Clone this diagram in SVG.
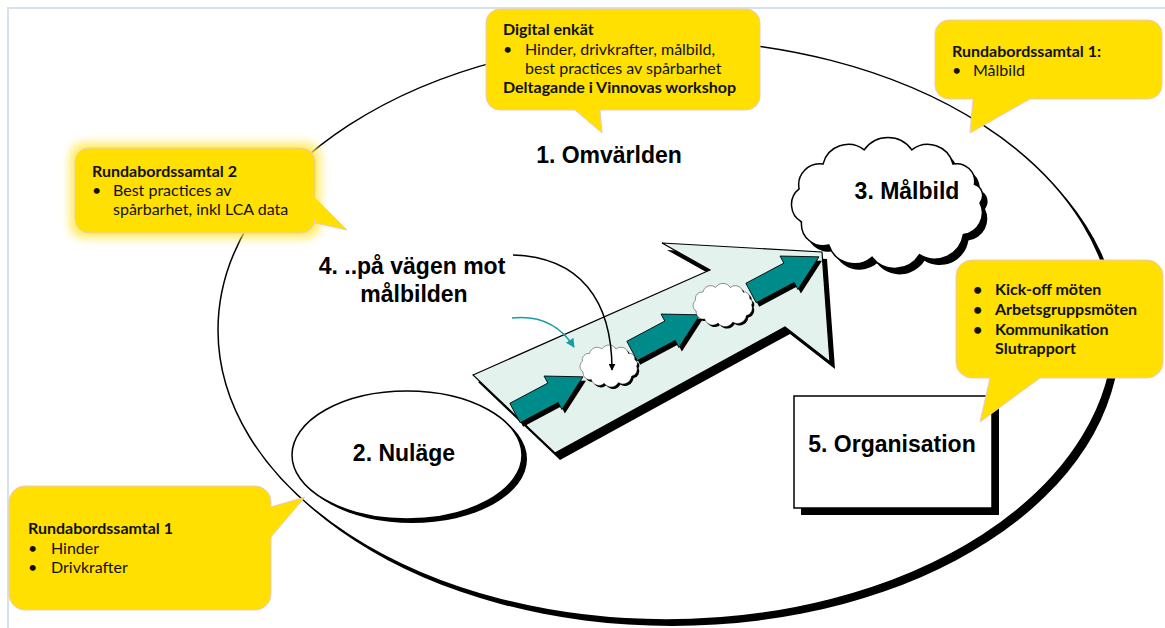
<svg xmlns="http://www.w3.org/2000/svg" width="1165" height="628" viewBox="0 0 1165 628">
  <defs>
    <style>
      .lbl { font-family: "Liberation Sans", Arial, sans-serif; font-weight: bold; font-size: 23px; fill: #000; }
      .ct { font-family: Lato, "Liberation Sans", sans-serif; font-size: 16px; fill: #111; }
      .b { font-weight: bold; }
      .callout { fill: #FFE000; stroke: #EBC9C0; stroke-width: 1; }
      .shadow { fill: #000; }
      .outline { fill: #fff; stroke: #000; stroke-width: 1.5; }
      .teal { fill: #008B8B; stroke: #000; stroke-width: 0.8; }
      .conn { fill: none; stroke-width: 1.5; }
    </style>
    <!-- cloud outline centred on the origin -->
    <path id="cloud" d="M92,0 A22,22 0 0 1 75.4,31.6 A29,29 0 0 1 31.5,51.7 A29,29 0 0 1 -16,54.2 A27,27 0 0 1 -59.2,42.1 A22,22 0 0 1 -86.5,18.8 A20,20 0 0 1 -88.9,-14.2 A21,21 0 0 1 -65,-38.9 A26,26 0 0 1 -23.8,-53.1 A29,29 0 0 1 23.8,-53.1 A26,26 0 0 1 65,-38.9 A18,18 0 0 1 86.5,-18.8 A12,12 0 0 1 92,0 Z"/>
    <!-- block arrow, tail at origin pointing along +x -->
    <path id="blockArrow" d="M0,-11 H43 V-19 L77,0 L43,19 V11 H0 Z"/>
    <marker id="headBlack" viewBox="0 0 10 10" refX="9" refY="5" markerWidth="7" markerHeight="7" orient="auto-start-reverse" markerUnits="userSpaceOnUse">
      <path d="M0,0 L10,5 L0,10 Z" fill="#000"/>
    </marker>
    <marker id="headTeal" viewBox="0 0 10 10" refX="9" refY="5" markerWidth="9" markerHeight="9" orient="auto-start-reverse" markerUnits="userSpaceOnUse">
      <path d="M0,0 L10,5 L0,10 Z" fill="#1A9BA8"/>
    </marker>
    <filter id="glow" x="-20%" y="-30%" width="140%" height="160%">
      <feGaussianBlur stdDeviation="5"/>
    </filter>
  </defs>

  <rect width="1165" height="628" fill="#fff"/>
  <!-- page frame -->
  <path d="M8,628 V8 H1165" fill="none" stroke="#D5E1EF" stroke-width="2"/>

  <!-- 1. Omvärlden : the surrounding world -->
  <g id="omvarlden">
    <ellipse cx="672" cy="336" rx="448" ry="290" class="shadow"/>
    <ellipse cx="666" cy="330" rx="448" ry="290" class="outline"/>
    <text x="609" y="163" text-anchor="middle" class="lbl">1. Omvärlden</text>
  </g>

  <!-- 2. Nuläge -->
  <g id="nulage">
    <ellipse cx="412" cy="459" rx="115" ry="64" class="shadow"/>
    <ellipse cx="407" cy="455" rx="115" ry="64" class="outline"/>
    <text x="404" y="461" text-anchor="middle" class="lbl">2. Nuläge</text>
  </g>

  <!-- 5. Organisation -->
  <g id="organisation">
    <rect x="801" y="403" width="198" height="112" class="shadow"/>
    <rect x="794" y="396" width="198" height="112" class="outline"/>
    <text x="892" y="452" text-anchor="middle" class="lbl">5. Organisation</text>
  </g>

  <!-- 4. the path towards the target picture -->
  <g id="vagen">
    <polygon points="478,382 715,277 667,250 827,259 835,369 790,334 560,460" class="shadow"/>
    <polygon points="473,375 710,270 662,243 822,252 830,362 785,327 555,453" fill="#E3F2EC" stroke="#000" stroke-width="1.2"/>
    <g id="steg">
      <use href="#blockArrow" transform="translate(518,417) rotate(-28)" class="shadow"/>
      <use href="#blockArrow" transform="translate(515,413) rotate(-28)" class="teal"/>
      <use href="#blockArrow" transform="translate(635,355) rotate(-28)" class="shadow"/>
      <use href="#blockArrow" transform="translate(632,351) rotate(-28)" class="teal"/>
      <use href="#blockArrow" transform="translate(754,297) rotate(-28)" class="shadow"/>
      <use href="#blockArrow" transform="translate(751,293) rotate(-28)" class="teal"/>
    </g>
    <g id="delmal">
      <use href="#cloud" transform="translate(611,368) scale(0.3,0.32)" class="shadow"/>
      <use href="#cloud" transform="translate(609,366) scale(0.3,0.32)" fill="#fff" stroke="#000" stroke-width="1.3" vector-effect="non-scaling-stroke"/>
      <use href="#cloud" transform="translate(725,307) scale(0.31,0.33)" class="shadow"/>
      <use href="#cloud" transform="translate(723,305) scale(0.31,0.33)" fill="#fff" stroke="#000" stroke-width="1.3" vector-effect="non-scaling-stroke"/>
    </g>
    <text x="412" y="274" text-anchor="middle" class="lbl">4. ..på vägen mot</text>
    <text x="414" y="302" text-anchor="middle" class="lbl">målbilden</text>
  </g>

  <!-- 3. Målbild -->
  <g id="malbild">
    <use href="#cloud" transform="translate(893,209)" class="shadow"/>
    <use href="#cloud" transform="translate(888,203)" fill="#fff" stroke="#000" stroke-width="1.5"/>
    <text x="907" y="199" text-anchor="middle" class="lbl">3. Målbild</text>
  </g>

  <!-- pointers onto the road -->
  <g id="connectors">
    <path d="M513,255 C580,257 612,300 612,370" class="conn" stroke="#000" marker-end="url(#headBlack)"/>
    <path d="M512,318 C540,315 560,325 574,347" class="conn" stroke="#1A9BA8" marker-end="url(#headTeal)"/>
  </g>

  <!-- speech bubbles -->
  <g id="bubbla-enkat">
    <path class="callout" d="M500,9 H746 A14,14 0 0 1 760,23 V96 A14,14 0 0 1 746,110 H600 L602,133 L575,110 H500 A14,14 0 0 1 486,96 V23 A14,14 0 0 1 500,9 Z"/>
    <text class="ct b" x="503" y="35">Digital enkät</text>
    <text class="ct" x="503" y="55">•</text>
    <text class="ct" x="525" y="55">Hinder, drivkrafter,  målbild,</text>
    <text class="ct" x="525" y="74">best practices  av spårbarhet</text>
    <text class="ct b" x="503" y="93">Deltagande i Vinnovas workshop</text>
  </g>

  <g id="bubbla-malbild">
    <path class="callout" d="M949,20 H1148 A14,14 0 0 1 1162,34 V85 A14,14 0 0 1 1148,99 H1030 L970,133 L973,99 H949 A14,14 0 0 1 935,85 V34 A14,14 0 0 1 949,20 Z"/>
    <text class="ct b" x="952" y="57">Rundabordssamtal 1:</text>
    <text class="ct" x="952" y="76">•</text>
    <text class="ct" x="973" y="76">Målbild</text>
  </g>

  <g id="bubbla-samtal2">
    <rect x="70" y="143" width="250" height="95" rx="14" fill="#FFE94D" opacity="0.9" filter="url(#glow)"/>
    <path class="callout" d="M89,148 H301 A14,14 0 0 1 315,162 V198 L347,230 L315,223 V219 A14,14 0 0 1 301,233 H89 A14,14 0 0 1 75,219 V162 A14,14 0 0 1 89,148 Z"/>
    <text class="ct b" x="92" y="177">Rundabordssamtal 2</text>
    <text class="ct" x="92" y="196">•</text>
    <text class="ct" x="113" y="196">Best practices  av</text>
    <text class="ct" x="113" y="215">spårbarhet, inkl LCA data</text>
  </g>

  <g id="bubbla-samtal1">
    <path class="callout" d="M25,486 H255 A16,16 0 0 1 271,502 V507 L305,497 L271,537 V594 A16,16 0 0 1 255,610 H25 A16,16 0 0 1 9,594 V502 A16,16 0 0 1 25,486 Z"/>
    <text class="ct b" x="28" y="534">Rundabordssamtal 1</text>
    <text class="ct" x="28" y="554">•</text>
    <text class="ct" x="51" y="554">Hinder</text>
    <text class="ct" x="28" y="573">•</text>
    <text class="ct" x="51" y="573">Drivkrafter</text>
  </g>

  <g id="bubbla-organisation">
    <path class="callout" d="M972,260 H1147 A16,16 0 0 1 1163,276 V362 A16,16 0 0 1 1147,378 H1040 L980,422 L990,378 H972 A16,16 0 0 1 956,362 V276 A16,16 0 0 1 972,260 Z"/>
    <text class="ct b" x="973" y="295">•</text>
    <text class="ct b" x="995" y="295">Kick-off möten</text>
    <text class="ct b" x="973" y="315">•</text>
    <text class="ct b" x="995" y="315">Arbetsgruppsmöten</text>
    <text class="ct b" x="973" y="335">•</text>
    <text class="ct b" x="995" y="335">Kommunikation</text>
    <text class="ct b" x="995" y="354">Slutrapport</text>
  </g>
</svg>
